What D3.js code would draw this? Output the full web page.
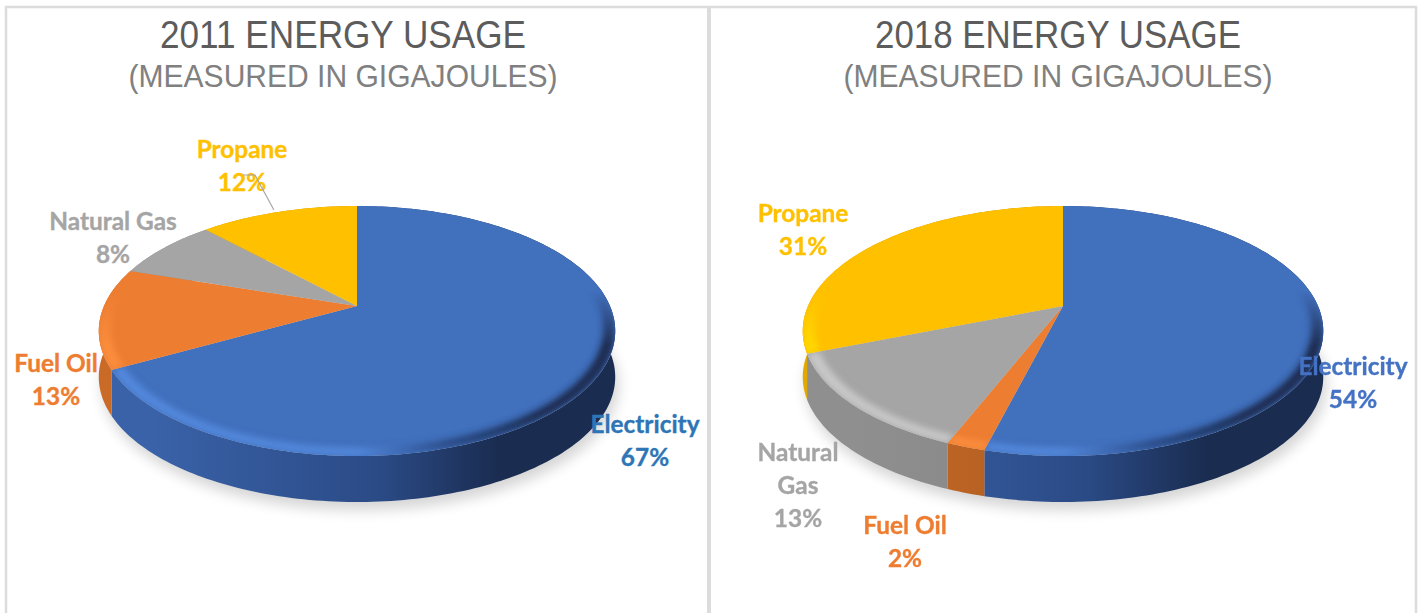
<!DOCTYPE html>
<meta charset="utf-8">
<script src="https://d3js.org/d3.v7.min.js"></script>
<style>
  html, body { margin: 0; background: #fff; }
  svg { display: block; }
</style>
<body></body>
<script>

// chart data
const categories = ["Electricity", "Fuel Oil", "Natural Gas", "Propane"];
const values2011 = [67, 13, 8, 12];
const values2018 = [54, 2, 13, 31];
const titles = ["2011 ENERGY USAGE", "2018 ENERGY USAGE"];
const subtitle = "(MEASURED IN GIGAJOULES)";

const colors = ["#4170bd", "#ed7d31", "#a5a5a5", "#ffc000"];
const rimColors = ["#5288dc", "#fb8d3e", "#c8c8c8", "#ffd800"];
const wallLeft = ["#3a62a8", "#c96a26", "#8f8f8f", "#e0a800"];
const wallMid = ["#2a4a85", "#a85a20", "#858585", "#b88c00"];
const wallRight = ["#1a2c50", "#8a4a17", "#6e6e6e", "#a07a00"];

const width = 1422, height = 613;

const svg = d3.select("body").append("svg")
    .attr("width", width)
    .attr("height", height);

const defs = svg.append("defs");
defs.append("filter").attr("id", "blur").attr("x", "-20%").attr("y", "-20%").attr("width", "140%").attr("height", "140%")
  .append("feGaussianBlur").attr("stdDeviation", 7);
defs.append("filter").attr("id", "soft").attr("x", "-10%").attr("y", "-10%").attr("width", "120%").attr("height", "120%")
  .append("feGaussianBlur").attr("stdDeviation", 3);

// panel frames
const frame = svg.append("g").attr("stroke", "#dcdcdc").attr("fill", "none");
frame.append("path").attr("stroke-width", 2.5).attr("d", `M6,${height} V7 H1416 V${height}`);
frame.append("line").attr("stroke-width", 4).attr("x1", 709).attr("x2", 709).attr("y1", 7).attr("y2", height);

// tilted disc seen in perspective: a = angle clockwise from the back, r = 0..1
function projector(p) {
  return function(a, r) {
    const X = r * Math.sin(a), Y = -r * Math.cos(a);
    const s = 1 / (1 - p.k * Y);
    return [p.cx + p.b * X * s, p.cy + p.a * Y * s];
  };
}

function arcPoints(proj, a0, a1, r) {
  const n = Math.max(2, Math.ceil((a1 - a0) / 0.02));
  return d3.range(n + 1).map(i => proj(a0 + (a1 - a0) * i / n, r));
}

const line = d3.line();

function drawPie(id, p, values, title, labels) {
  const g = svg.append("g");
  const proj = projector(p);
  const slices = d3.pie().sort(null)(values);
  const rim = arcPoints(proj, 0, 2 * Math.PI, 1);

  g.append("text").attr("x", p.titleX).attr("y", 48)
    .attr("text-anchor", "middle")
    .attr("font-family", "'Liberation Sans'").attr("font-size", 38.5)
    .attr("textLength", 366).attr("lengthAdjust", "spacingAndGlyphs")
    .attr("fill", "#5c5c5c")
    .text(title);
  g.append("text").attr("x", p.titleX).attr("y", 87)
    .attr("text-anchor", "middle")
    .attr("font-family", "'Liberation Sans'").attr("font-size", 31)
    .attr("textLength", 429).attr("lengthAdjust", "spacingAndGlyphs")
    .attr("fill", "#808080")
    .text(subtitle);

  // soft shadow under the disc
  g.append("path")
    .attr("d", line(rim.map(d => [d[0] + 3, d[1] + p.depth + 8])) + "Z")
    .attr("fill", "#000").attr("opacity", 0.17)
    .attr("filter", "url(#blur)");

  // walls
  slices.forEach((s, i) => {
    const gid = `wall-${id}-${i}`;
    const lg = defs.append("linearGradient").attr("id", gid)
      .attr("gradientUnits", "userSpaceOnUse")
      .attr("x1", p.cx - p.b).attr("x2", p.cx + p.b).attr("y1", 0).attr("y2", 0);
    lg.append("stop").attr("offset", 0.1).attr("stop-color", wallLeft[i]);
    lg.append("stop").attr("offset", 0.55).attr("stop-color", wallMid[i]);
    lg.append("stop").attr("offset", 0.78).attr("stop-color", wallRight[i]);

    const pts = arcPoints(proj, s.startAngle, s.endAngle, 1);
    const low = pts.map(d => [d[0], d[1] + p.depth]).reverse();
    g.append("path").attr("d", line(pts.concat(low)) + "Z")
      .attr("fill", `url(#${gid})`);
  });

  // top faces
  slices.forEach((s, i) => {
    const pts = arcPoints(proj, s.startAngle, s.endAngle, 1);
    g.append("path").attr("d", line([[p.cx, p.cy]].concat(pts)) + "Z")
      .attr("fill", colors[i]);
  });

  // bevel: band along the rim, light on the left, dark on the right,
  // faded out towards the back of the disc with a mask
  const maskGrad = defs.append("linearGradient").attr("id", `fade-${id}`)
    .attr("gradientUnits", "userSpaceOnUse")
    .attr("x1", 0).attr("x2", 0).attr("y1", p.cy - 15).attr("y2", p.cy + 40);
  maskGrad.append("stop").attr("offset", 0).attr("stop-color", "#000");
  maskGrad.append("stop").attr("offset", 1).attr("stop-color", "#fff");
  defs.append("mask").attr("id", `mask-${id}`)
    .attr("maskUnits", "userSpaceOnUse")
    .attr("x", 0).attr("y", 0).attr("width", width).attr("height", height)
    .append("rect").attr("width", width).attr("height", height)
    .attr("fill", `url(#fade-${id})`);

  const bevel = g.append("g").attr("mask", `url(#mask-${id})`);
  slices.forEach((s, i) => {
    const gid = `bevel-${id}-${i}`;
    const lg = defs.append("linearGradient").attr("id", gid)
      .attr("gradientUnits", "userSpaceOnUse")
      .attr("x1", p.cx - p.b).attr("x2", p.cx + p.b).attr("y1", 0).attr("y2", 0);
    lg.append("stop").attr("offset", 0.5).attr("stop-color", rimColors[i]);
    lg.append("stop").attr("offset", 0.68).attr("stop-color", wallMid[i]);
    lg.append("stop").attr("offset", 0.85).attr("stop-color", wallRight[i]);

    const outer = arcPoints(proj, s.startAngle, s.endAngle, 1);
    const inner = arcPoints(proj, s.startAngle, s.endAngle, 0.955).reverse();
    const clip = `clip-${id}-${i}`;
    defs.append("clipPath").attr("id", clip)
      .append("path").attr("d", line([[p.cx, p.cy]].concat(outer)) + "Z");
    bevel.append("g").attr("clip-path", `url(#${clip})`)
      .append("path").attr("d", line(outer.concat(inner)) + "Z")
      .attr("fill", `url(#${gid})`)
      .attr("filter", "url(#soft)");
  });

  // data labels
  categories.forEach((c, i) => {
    const l = labels[i];
    const text = g.append("text")
      .attr("text-anchor", "middle")
      .attr("font-family", "Lato").attr("font-weight", 700).attr("font-size", 24.4)
      .attr("fill", l.color)
      .attr("stroke", l.color).attr("stroke-width", 0.35);
    const rows = l.rows.concat(values[i] + "%");
    rows.forEach((r, j) => {
      text.append("tspan").attr("x", l.x).attr("y", l.y + j * 33).text(r);
    });
  });

  return proj;
}

const proj2011 = drawPie("a", {cx: 357, cy: 306, a: 120, b: 253, k: 0.2, depth: 46, titleX: 343}, values2011, titles[0], [
  {rows: ["Electricity"], x: 645, y: 433, color: "#2e75b6"},
  {rows: ["Fuel Oil"], x: 56, y: 372, color: "#ed7d31"},
  {rows: ["Natural Gas"], x: 113, y: 230, color: "#a5a5a5"},
  {rows: ["Propane"], x: 242, y: 158, color: "#ffc000"}
]);

// leader line of the 2011 propane label
const leader = proj2011(-0.4, 1);
svg.append("path")
  .attr("d", line([[243, 175], [255, 175], [leader[0], leader[1] - 3]]))
  .attr("fill", "none").attr("stroke", "#a6a6a6").attr("stroke-width", 1.2);

drawPie("b", {cx: 1063, cy: 306, a: 120, b: 255, k: 0.2, depth: 46, titleX: 1058}, values2018, titles[1], [
  {rows: ["Electricity"], x: 1353, y: 375, color: "#4472c4"},
  {rows: ["Fuel Oil"], x: 905, y: 534, color: "#ed7d31"},
  {rows: ["Natural", "Gas"], x: 798, y: 461, color: "#a5a5a5"},
  {rows: ["Propane"], x: 803, y: 222, color: "#ffc000"}
]);

</script>
